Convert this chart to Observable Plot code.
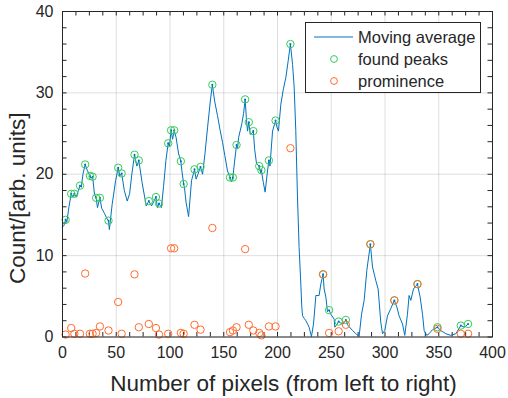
<!DOCTYPE html>
<html><head><meta charset="utf-8">
<script src="https://cdn.jsdelivr.net/npm/d3@7"></script>
<script src="https://cdn.jsdelivr.net/npm/@observablehq/plot@0.6"></script>
<style>
body{margin:0;background:#fff;font-family:"Liberation Sans",Arial,sans-serif;}
#wrap{position:relative;width:508px;height:398px;overflow:hidden;}
#legend{position:absolute;left:305px;top:22px;width:176px;height:71px;border:1px solid #262626;background:#fff;box-sizing:border-box;color:#262626;font-size:16.5px;}
#legend .row{position:absolute;left:0;height:20px;display:flex;align-items:center;}
#legend svg{display:block;}
</style></head><body><div id="wrap"></div>
<script>
// Moving average curve
const avgX = [0,1.3,2.9,4,6,8.1,9.7,11,12.8,14.5,16.3,17.5,19,21.1,23,25.5,26.4,28,29.8,31.3,32.5,34.8,36.5,39,41.5,42.8,43.6,46.2,49.4,51.8,53.3,55,57.5,60.2,62.4,64.5,67,69.2,71,74,77.9,80.3,82.8,85.5,86.9,88.3,89.8,92,94,96.2,98.3,99.5,101,102.4,103.9,105.7,108,110.1,111,112.7,113.5,115,117.3,120,122.8,124.3,126,128.4,130.3,132.5,134.9,137.5,139.4,141.5,144.2,146.5,148.9,151,153.5,155.8,157.2,158.5,160,161.9,162.8,163.8,166.8,168.5,169.9,171,172.1,173.3,174.6,176,177.5,178.8,180.5,183,184.2,185,186.8,188.5,190.7,192,193,195.4,198.2,199.5,200.9,203.1,205.5,207.8,210,212,214,215.5,217,218.6,220.1,221.7,222.6,223.3,224.8,226.4,228,229.4,231.6,233.5,235.7,238.7,240.3,242.4,243.4,245,246.5,248,249.6,252.7,253.3,255,256.9,258.9,261,263.6,265.7,269.8,272.9,275.9,278.2,280.6,283.1,286.4,288.4,291.5,293.6,296.1,297.7,299.8,302.3,305.4,308.7,311,313.1,316.3,318.4,320.9,322.4,324,326.5,330.2,332.7,334.9,336.4,338.9,341,344.2,348.8,351.9,356.6,361.2,365.9,370.5,374.2,377.3];
const avgY = [13.5,13.7,14.4,14.1,16,17.6,17.2,17.6,17.2,17.9,18.6,18.4,20,21.2,20.5,19.8,19.5,19.7,17.5,17.1,15.9,17.1,15.8,15.2,14.5,14.3,13.2,16.3,19.2,20.8,19.8,20.1,18,16.7,17.6,20,22.4,21,21.7,19,16.1,16.7,16.1,16.8,17.2,15.9,16.4,15.9,18.5,21.7,23.8,23.4,25.4,24.3,25.4,24.5,22.5,21.6,20.5,18.8,18.3,16.5,14.8,19.2,20.6,19.4,20,20.9,20,22.5,25.7,29,31,29,27.2,25.5,23.9,22.3,20.4,19.6,19.1,19.6,21.5,23.6,23.1,24.5,26.2,27.5,29.2,27,25.3,26.4,24.9,25,25.3,23,21.3,21,20.2,20.5,19,17.8,20.4,21.7,21,25.3,26.6,25.8,25.3,28.6,30.5,31.9,34,36,33.5,30.7,25.4,17.2,11,6.5,3.7,2.6,2.3,2,1.6,1.2,0.05,1.6,5.1,5.1,6.5,7.7,5.9,4.9,3.1,3.3,2.8,2.2,1.2,1.5,1.9,1.7,1.6,2.1,1.4,0.8,0.4,0.05,2.8,4.5,8.2,11.4,8.6,6.9,5.9,1.8,0.4,0.8,2.6,3.5,4.5,3.7,2.6,1.6,0.2,2.8,5.1,4.5,5.9,6.5,4.9,2.8,0.8,0.2,0.4,0.9,1.2,0.8,0.4,0.2,0.4,1.4,1.2,1.6];
// Found peaks and their prominence
const peakX = [2.9,8.1,11,16.3,21.1,25.5,28,31.3,34.8,42.8,51.8,55,67,71,80.3,86.9,89.8,98.3,101,103.9,110.1,112.7,122.8,128.4,139.4,155.8,158.5,161.9,169.9,173.3,177.5,183,185,192,198.2,212,242.4,248,256.9,263.6,286.4,308.7,330.2,348.8,370.5,377.3];
const peakY = [14.4,17.6,17.6,18.6,21.2,19.8,19.7,17.1,17.1,14.3,20.8,20.1,22.4,21.7,16.7,17.2,16.4,23.8,25.4,25.4,21.6,18.8,20.6,20.9,31,19.6,19.6,23.6,29.2,26.4,25.3,21,20.5,21.7,26.6,36,7.7,3.3,1.9,2.1,11.4,4.5,6.5,1.2,1.4,1.6];
const promY = [0.3,1.1,0.4,0.4,7.8,0.4,0.4,0.5,1.3,0.8,4.3,0.4,7.7,1.2,1.6,1.1,0.3,0.4,10.9,10.9,0.5,0.4,1.5,0.9,13.4,0.6,0.8,1.2,10.8,1.5,0.8,0.5,0.2,1.3,1.3,23.2,7.7,0.5,0.7,1.5,11.4,4.5,6.5,1.0,0.4,0.4];
const xTicks = [0,50,100,150,200,250,300,350,400];
const yTicks = [0,10,20,30,40];
const xLabel = "Number of pixels (from left to right)";
const yLabel = "Count/[arb. units]";
const seriesNames = ["Moving average","found peaks","prominence"];

const W = 508, H = 398, mL = 62, mR = 16, mT = 11, mB = 61.5;
const frameH = H - mT - mB, frameW = W - mL - mR;
const TK = 4.5;
const BLUE = "#0072BD", GREEN = "#35CC58", ORANGE = "#FF6C2F", INK = "#262626";
const xMinor = d3.range(0, 400.01, 12.5), yMinor = d3.range(0, 40.01, 2);

const avg = avgX.map((x, i) => ({x, y: avgY[i]}));
const peaks = peakX.map((x, i) => ({x, y: peakY[i], p: promY[i]}));

const chart = Plot.plot({
  width: W, height: H,
  marginLeft: mL, marginRight: mR, marginTop: mT, marginBottom: mB,
  style: {fontFamily: '"Liberation Sans", Arial, sans-serif', color: INK, background: "#fff", overflow: "visible"},
  x: {domain: [0, 400], axis: null},
  y: {domain: [0, 40], axis: null},
  marks: [
    Plot.gridX(xTicks, {stroke: "#000", strokeOpacity: 0.13, strokeWidth: 1}),
    Plot.gridY(yTicks, {stroke: "#000", strokeOpacity: 0.13, strokeWidth: 1}),
    Plot.tickX(xMinor, {x: d => d, insetTop: frameH - TK, stroke: INK}),
    Plot.tickX(xMinor, {x: d => d, insetBottom: frameH - TK, stroke: INK}),
    Plot.tickY(yMinor, {y: d => d, insetRight: frameW - TK, stroke: INK}),
    Plot.tickY(yMinor, {y: d => d, insetLeft: frameW - TK, stroke: INK}),
    Plot.line(avg, {x: "x", y: "y", stroke: BLUE, strokeWidth: 1}),
    Plot.dot(peaks, {x: "x", y: "y", r: 1, fill: BLUE}),
    Plot.dot(peaks, {x: "x", y: "y", r: 3.7, stroke: GREEN, strokeWidth: 1, fill: "none"}),
    Plot.dot(peaks, {x: "x", y: "p", r: 3.7, stroke: ORANGE, strokeWidth: 1, fill: "none"}),
    Plot.frame({stroke: INK, strokeWidth: 1}),
    Plot.axisX(xTicks, {tickSize: 0, tickPadding: 10, fontSize: 16, label: null}),
    Plot.axisY(yTicks, {tickSize: 0, tickPadding: 9, fontSize: 16, label: null}),
    Plot.text([xLabel], {text: d => d, frameAnchor: "bottom", dx: 6, dy: 46.5, fontSize: 22.5, lineAnchor: "middle", textAnchor: "middle", fill: INK}),
    Plot.text([yLabel], {text: d => d, frameAnchor: "left", dx: -45, dy: 24, rotate: -90, fontSize: 22.5, lineAnchor: "middle", textAnchor: "middle", fill: INK})
  ]
});
const wrap = document.getElementById("wrap");
wrap.appendChild(chart);

// legend
const lg = document.createElement("div");
lg.id = "legend";
const rows = [
  {sym: `<svg width="40" height="10"><line x1="0" y1="5" x2="39" y2="5" stroke="${BLUE}" stroke-width="1"/></svg>`},
  {sym: `<svg width="40" height="10"><circle cx="20" cy="5" r="3.4" stroke="${GREEN}" fill="none"/></svg>`},
  {sym: `<svg width="40" height="10"><circle cx="20" cy="5" r="3.4" stroke="${ORANGE}" fill="none"/></svg>`}
];
rows.forEach((r, i) => {
  const d = document.createElement("div");
  d.className = "row";
  d.style.top = (4 + i * 22) + "px";
  d.style.left = "8px";
  d.innerHTML = r.sym + `<span style="margin-left:4px">${seriesNames[i]}</span>`;
  lg.appendChild(d);
});
wrap.appendChild(lg);
</script>
</body></html>
